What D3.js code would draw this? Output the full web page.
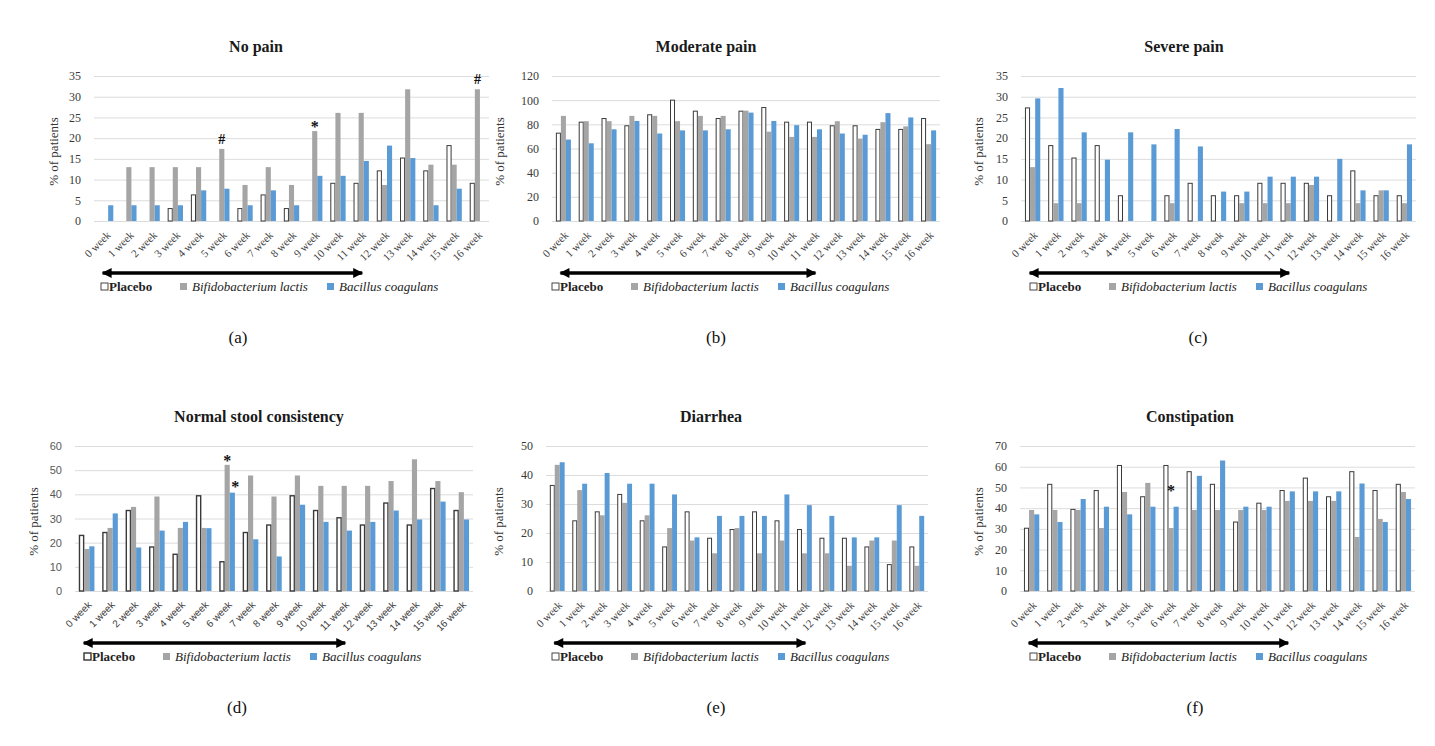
<!DOCTYPE html>
<html>
<head>
<meta charset="utf-8">
<script src="https://cdn.jsdelivr.net/npm/d3@7"></script>
<style>
  body { margin: 0; background: #fff; }
</style>
</head>
<body>
<svg id="chart" width="1435" height="746"></svg>
<script>
var weeks = ["0 week", "1 week", "2 week", "3 week", "4 week", "5 week", "6 week", "7 week", "8 week",
             "9 week", "10 week", "11 week", "12 week", "13 week", "14 week", "15 week", "16 week"];
var seriesNames = ["Placebo", "Bifidobacterium lactis", "Bacillus coagulans"];

// (a) no pain
var noPainPlacebo  = [0, 0, 0, 3, 6.3, 0, 3, 6.3, 3, 0, 9.1, 9.1, 12.1, 15.2, 12.1, 18.2, 9.1];
var noPainBifido   = [0, 13, 13, 13, 13, 17.4, 8.7, 13, 8.7, 21.7, 26.1, 26.1, 8.7, 31.8, 13.6, 13.6, 31.8];
var noPainBacillus = [3.8, 3.8, 3.8, 3.8, 7.4, 7.8, 3.8, 7.4, 3.8, 10.9, 10.9, 14.5, 18.2, 15.2, 3.8, 7.8, 0];
// (b) moderate pain
var modPainPlacebo  = [72.7, 81.8, 84.8, 78.8, 87.9, 100, 90.9, 84.8, 90.9, 93.9, 81.8, 81.8, 78.8, 78.8, 75.8, 75.8, 84.8];
var modPainBifido   = [87, 82.6, 82.6, 87, 87, 82.6, 87, 87, 91.3, 73.9, 69.6, 69.6, 82.6, 68.2, 81.8, 78.3, 63.6];
var modPainBacillus = [67.4, 64.3, 75.9, 82.8, 72.4, 75, 75, 75.9, 89.7, 82.8, 79.3, 75.9, 72.4, 71.4, 89.3, 85.7, 75];
// (c) severe pain
var sevPainPlacebo  = [27.3, 18.2, 15.2, 18.2, 6.1, 0, 6.1, 9.1, 6.1, 6.1, 9.1, 9.1, 9.1, 6.1, 12.1, 6.1, 6.1];
var sevPainBifido   = [13, 4.3, 4.3, 0, 0, 0, 4.3, 0, 0, 4.3, 4.3, 4.3, 8.7, 0, 4.3, 7.4, 4.3];
var sevPainBacillus = [29.6, 32.1, 21.4, 14.8, 21.4, 18.5, 22.2, 18, 7.1, 7.1, 10.7, 10.7, 10.7, 15, 7.4, 7.4, 18.5];
// (d) normal stool consistency
var normalPlacebo  = [23, 24.2, 33.3, 18.2, 15.2, 39.4, 12.1, 24.2, 27.3, 39.4, 33.3, 30.3, 27.3, 36.4, 27.3, 42.4, 33.3];
var normalBifido   = [17.4, 26.1, 34.8, 39.1, 26.1, 26.1, 52.2, 47.8, 39.1, 47.8, 43.5, 43.5, 43.5, 45.5, 54.5, 45.5, 40.9];
var normalBacillus = [18.5, 32.1, 18, 25, 28.6, 26, 40.7, 21.4, 14.3, 35.7, 28.6, 25, 28.6, 33.3, 29.6, 37, 29.6];
// (e) diarrhea
var diarrheaPlacebo  = [36.4, 24.2, 27.3, 33.3, 24.2, 15.2, 27.3, 18.2, 21.2, 27.3, 24.2, 21.2, 18.2, 18.2, 15.2, 9.1, 15.2];
var diarrheaBifido   = [43.5, 34.8, 26.1, 30.4, 26.1, 21.7, 17.4, 13, 21.7, 13, 17.4, 13, 13, 8.7, 17.4, 17.4, 8.7];
var diarrheaBacillus = [44.4, 37, 40.7, 37, 37, 33.3, 18.5, 25.9, 25.9, 25.9, 33.3, 29.6, 25.9, 18.5, 18.5, 29.6, 25.9];
// (f) constipation
var constipPlacebo  = [30.3, 51.5, 39.4, 48.5, 60.6, 45.5, 60.6, 57.6, 51.5, 33.3, 42.4, 48.5, 54.5, 45.5, 57.6, 48.5, 51.5];
var constipBifido   = [39.1, 39.1, 39.1, 30.4, 47.8, 52.2, 30.4, 39.1, 39.1, 39.1, 39.1, 43.5, 43.5, 43.5, 26.1, 34.8, 47.8];
var constipBacillus = [37, 33.3, 44.4, 40.7, 37, 40.7, 40.7, 55.6, 63, 40.7, 40.7, 48.1, 48.1, 48.1, 51.9, 33.3, 44.4];

// significance marks: week index, series index, symbol, value height to place it at
var noPainMarks   = [[5, 1, "#", 18.5], [9, 1, "*", 23.5], [16, 1, "#", 33]];
var normalMarks   = [[6, 1, "*", 55.5], [6, 2, "*", 44.5]];
var constipMarks  = [[6, 1, "*", 50]];

var colors = ["#ffffff", "#a5a5a5", "#5b9bd5"];

var SERIF = "'Liberation Serif', 'DejaVu Serif', serif";
var SANS = "'Liberation Sans', 'DejaVu Sans', sans-serif";

var panels = [
  { title: "No pain", tag: "(a)", data: [noPainPlacebo, noPainBifido, noPainBacillus], marks: noPainMarks,
    max: 35, step: 5, left: 94, right: 489, top: 76, bottom: 221, titleX: 256, yTitleX: 58, legendX: 101, tagX: 238 },
  { title: "Moderate pain", tag: "(b)", data: [modPainPlacebo, modPainBifido, modPainBacillus], marks: [],
    max: 120, step: 20, left: 552, right: 940, top: 76, bottom: 221, titleX: 706, yTitleX: 504, legendX: 552, tagX: 716 },
  { title: "Severe pain", tag: "(c)", data: [sevPainPlacebo, sevPainBifido, sevPainBacillus], marks: [],
    max: 35, step: 5, left: 1021, right: 1416, top: 76, bottom: 221, titleX: 1184, yTitleX: 983, legendX: 1030, tagX: 1198 },
  { title: "Normal stool consistency", tag: "(d)", data: [normalPlacebo, normalBifido, normalBacillus], marks: normalMarks,
    max: 60, step: 10, left: 75, right: 473, top: 446, bottom: 591, titleX: 259, yTitleX: 38, legendX: 84, tagX: 237, sans: true },
  { title: "Diarrhea", tag: "(e)", data: [diarrheaPlacebo, diarrheaBifido, diarrheaBacillus], marks: [],
    max: 50, step: 10, left: 546, right: 928, top: 446, bottom: 591, titleX: 711, yTitleX: 503, legendX: 552, tagX: 716 },
  { title: "Constipation", tag: "(f)", data: [constipPlacebo, constipBifido, constipBacillus], marks: constipMarks,
    max: 70, step: 10, left: 1020, right: 1415, top: 446, bottom: 591, titleX: 1190, yTitleX: 983, legendX: 1030, tagX: 1195 }
];

var svg = d3.select("#chart").style("font-family", SERIF);

var defs = svg.append("defs");
defs.append("marker").attr("id", "head-end")
    .attr("viewBox", "0 0 10 10").attr("refX", 9).attr("refY", 5)
    .attr("markerWidth", 11).attr("markerHeight", 10).attr("markerUnits", "userSpaceOnUse")
    .attr("orient", "auto")
  .append("path").attr("d", "M0,0 L10,5 L0,10 Z").attr("fill", "#000");
defs.append("marker").attr("id", "head-start")
    .attr("viewBox", "0 0 10 10").attr("refX", 1).attr("refY", 5)
    .attr("markerWidth", 11).attr("markerHeight", 10).attr("markerUnits", "userSpaceOnUse")
    .attr("orient", "auto")
  .append("path").attr("d", "M10,0 L0,5 L10,10 Z").attr("fill", "#000");

panels.forEach(function(p) {
  var g = svg.append("g");
  var axisFont = p.sans ? SANS : SERIF;

  var x = d3.scaleBand().domain(weeks).range([p.left, p.right]).paddingInner(0).paddingOuter(0);
  var xs = d3.scaleBand().domain([0, 1, 2])
      .range([x.bandwidth() * 0.17, x.bandwidth() * 0.83]);
  var y = d3.scaleLinear().domain([0, p.max]).range([p.bottom, p.top]);

  // title
  g.append("text").attr("x", p.titleX).attr("y", p.top - 24)
    .attr("text-anchor", "middle").attr("font-size", 16).attr("font-weight", "bold")
    .attr("fill", "#1a1a1a").style("font-family", SERIF).text(p.title);

  // y axis with gridlines
  var yAxis = g.append("g").attr("transform", "translate(" + p.left + ",0)")
    .call(d3.axisLeft(y).tickValues(d3.range(0, p.max + 0.1, p.step))
      .tickSize(-(p.right - p.left)).tickPadding(13));
  yAxis.select(".domain").remove();
  yAxis.selectAll(".tick line").attr("stroke", "#dcdcdc").attr("stroke-width", 1);
  yAxis.selectAll(".tick text").style("font-family", axisFont)
    .attr("font-size", p.sans ? 11 : 12).attr("fill", p.sans ? "#595959" : "#3a3a3a");

  g.append("text")
    .attr("transform", "translate(" + p.yTitleX + "," + ((p.top + p.bottom) / 2 + 3) + ") rotate(-90)")
    .attr("text-anchor", "middle").attr("font-size", 13).attr("fill", "#333")
    .style("font-family", SERIF).text("% of patients");

  // x axis labels (rotated)
  var xAxis = g.append("g").attr("transform", "translate(0," + p.bottom + ")")
    .call(d3.axisBottom(x).tickSize(0).tickPadding(0));
  xAxis.select(".domain").remove();
  xAxis.selectAll(".tick text")
    .style("font-family", axisFont).attr("font-size", p.sans ? 10 : 11).attr("fill", "#404040")
    .attr("text-anchor", "end").attr("x", 0).attr("y", 0).attr("dy", "0.35em")
    .attr("transform", "translate(3,12) rotate(-45)");

  // bars
  var groups = g.append("g").selectAll("g").data(weeks).join("g")
    .attr("transform", function(d) { return "translate(" + x(d) + ",0)"; });
  groups.selectAll("rect")
    .data(function(d, i) { return p.data.map(function(s, k) { return { k: k, v: s[i] }; }); })
    .join("rect")
    .filter(function(d) { return d.v > 0; })
    .attr("x", function(d) { return xs(d.k) + (d.k === 0 ? 0.5 : 0); })
    .attr("width", function(d) { return xs.bandwidth() - (d.k === 0 ? 1 : 0); })
    .attr("y", function(d) { return y(d.v); })
    .attr("height", function(d) { return y(0) - y(d.v); })
    .attr("fill", function(d) { return colors[d.k]; })
    .attr("stroke", function(d) { return d.k === 0 ? "#3a3a3a" : "none"; })
    .attr("stroke-width", p.sans ? 1.4 : 1);

  // significance marks
  g.selectAll("text.mark").data(p.marks).join("text").attr("class", "mark")
    .attr("x", function(d) { return x(weeks[d[0]]) + xs(d[1]) + xs.bandwidth() / 2 + (d[1] === 2 ? 3 : 0); })
    .attr("y", function(d) { return y(d[3]); })
    .attr("text-anchor", "middle").attr("font-size", d => d[2] === "#" ? 14 : 16)
    .attr("font-weight", "bold").attr("fill", "#111")
    .attr("dy", d => d[2] === "#" ? "0" : "0.55em")
    .text(function(d) { return d[2]; });

  // double arrow over weeks 0-11
  var ay = p.bottom + 52;
  g.append("line")
    .attr("x1", x(weeks[0]) + x.bandwidth() / 2 - 3).attr("x2", x(weeks[11]) + x.bandwidth() / 2 + 1)
    .attr("y1", ay).attr("y2", ay)
    .attr("stroke", "#000").attr("stroke-width", 3.5)
    .attr("marker-start", "url(#head-start)").attr("marker-end", "url(#head-end)");

  // legend
  var ly = p.bottom + 66;
  var offs = [[0, 8], [79, 91], [226, 238]];
  var lg = g.append("g").attr("transform", "translate(" + p.legendX + "," + ly + ")");
  seriesNames.forEach(function(name, k) {
    lg.append("rect").attr("x", offs[k][0]).attr("y", -4).attr("width", 7).attr("height", 7)
      .attr("fill", colors[k]).attr("stroke", k === 0 ? "#333" : "none").attr("stroke-width", p.sans ? 1.4 : 0.9);
    lg.append("text").attr("x", offs[k][1]).attr("y", 4)
      .attr("font-size", 13).attr("fill", "#222")
      .style("font-family", SERIF)
      .attr("font-style", k === 0 ? "normal" : "italic")
      .attr("font-weight", k === 0 ? "bold" : "normal")
      .text(name);
  });

  // panel tag
  g.append("text").attr("x", p.tagX).attr("y", p.bottom + 122)
    .attr("text-anchor", "middle").attr("font-size", 17).attr("fill", "#111")
    .style("font-family", SERIF).text(p.tag);
});
</script>
</body>
</html>
